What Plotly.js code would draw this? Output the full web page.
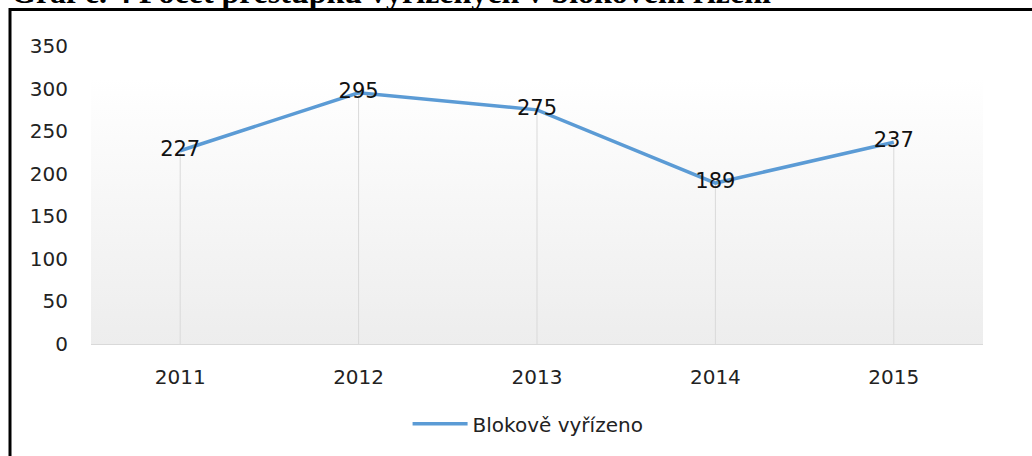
<!DOCTYPE html>
<html>
<head>
<meta charset="utf-8">
<script src="https://cdn.plot.ly/plotly-3.0.1.min.js"></script>
<style>
html,body{margin:0;padding:0;background:#fff;}
#chart{width:1032px;height:456px;}
</style>
</head>
<body>
<div id="chart"></div>
<script>
const years = ["2011", "2012", "2013", "2014", "2015"];
const blokoveVyrizeno = [227, 295, 275, 189, 237];
const seriesName = "Blokově vyřízeno";
const chartTitle = "Graf č. 4 Počet přestupků vyřízených v blokovém řízení";
const yTicks = [0, 50, 100, 150, 200, 250, 300, 350];

const gradSvg = '<svg xmlns="http://www.w3.org/2000/svg" width="100" height="100" preserveAspectRatio="none">' +
  '<defs><linearGradient id="g" x1="0" y1="0" x2="0" y2="1">' +
  '<stop offset="0" stop-color="#ffffff"/><stop offset="1" stop-color="#ededed"/>' +
  '</linearGradient></defs><rect width="100" height="100" fill="url(#g)"/></svg>';
const gradUri = 'data:image/svg+xml;charset=utf-8,' + encodeURIComponent(gradSvg);

const font = "DejaVu Sans";

const trace = {
  type: 'scatter',
  mode: 'lines+text',
  x: years,
  y: blokoveVyrizeno,
  name: seriesName,
  text: blokoveVyrizeno.map(String),
  textposition: 'middle center',
  textfont: {family: font, size: 21, color: '#111111'},
  line: {color: '#5b9bd5', width: 3.5},
  error_y: {
    type: 'data', symmetric: false,
    array: blokoveVyrizeno.map(() => 0),
    arrayminus: blokoveVyrizeno,
    color: '#d9d9d9', thickness: 1, width: 0
  },
  cliponaxis: false,
  hoverinfo: 'x+y'
};

const layout = {
  width: 1032, height: 456,
  margin: {l: 91, r: 49, t: 46, b: 112},
  paper_bgcolor: '#ffffff',
  plot_bgcolor: 'rgba(0,0,0,0)',
  showlegend: true,
  legend: {
    orientation: 'h', x: 0.49, xanchor: 'center', y: -0.268, yanchor: 'middle',
    font: {family: font, size: 20, color: '#222222'},
    itemwidth: 55, bgcolor: 'rgba(0,0,0,0)'
  },
  xaxis: {
    type: 'category', range: [-0.5, 4.5],
    showline: true, linecolor: '#d9d9d9', linewidth: 1,
    showgrid: false, zeroline: false, ticks: '',
    tickfont: {family: font, size: 20, color: '#222222'},
    ticklabelstandoff: 15, fixedrange: true
  },
  yaxis: {
    range: [0, 350], tickvals: yTicks,
    showline: false, showgrid: false, zeroline: false, ticks: '',
    tickfont: {family: font, size: 20, color: '#222222'},
    ticklabelstandoff: 22, fixedrange: true
  },
  images: [{
    source: gradUri, xref: 'paper', yref: 'paper',
    x: 0, y: 0.893, sizex: 1, sizey: 0.893,
    xanchor: 'left', yanchor: 'top', sizing: 'stretch', layer: 'below'
  }],
  shapes: [
    {type: 'line', xref: 'paper', yref: 'paper', x0: -0.0908, x1: 1.1, y0: 1.1225, y1: 1.1225,
     line: {color: '#000000', width: 3}},
    {type: 'line', xref: 'paper', yref: 'paper', x0: -0.0908, x1: -0.0908, y0: 1.1275, y1: -0.5,
     line: {color: '#000000', width: 3}}
  ],
  annotations: [{
    text: '<b>' + chartTitle + '</b>',
    xref: 'paper', yref: 'paper', x: -0.092, y: 1.113,
    xanchor: 'left', yanchor: 'bottom', showarrow: false,
    font: {family: 'Liberation Serif', size: 32, color: '#000000'}
  }]
};

Plotly.newPlot('chart', [trace], layout, {displayModeBar: false, staticPlot: true});
</script>
</body>
</html>
